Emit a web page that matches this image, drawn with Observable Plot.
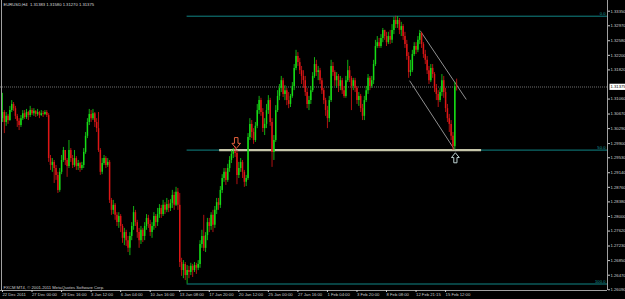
<!DOCTYPE html>
<html><head><meta charset="utf-8">
<script src="https://cdn.jsdelivr.net/npm/d3@7"></script>
<script src="https://cdn.jsdelivr.net/npm/@observablehq/plot@0.6"></script>
<style>html,body{margin:0;padding:0;background:#000;} svg{display:block}</style>
</head><body>
<div id="chart"></div>
<script>
const symbol = "EURUSD";
const timeframe = "H4";
const copyright = "FXCM MT4, © 2001-2011 MetaQuotes Software Corp.";

const opens = [
1.3055,1.3071,1.3045,1.3061,1.3050,1.3076,1.3092,1.3081,1.3061,1.3048,
1.3037,1.3055,1.3068,1.3058,1.3071,1.3063,1.3076,1.3068,1.3074,1.3066,
1.3071,1.3063,1.3068,1.3066,1.3071,1.3063,1.2951,1.2933,1.2941,1.2925,
1.2907,1.2868,1.2915,1.2946,1.2972,1.2946,1.2930,1.2972,1.2951,1.2933,
1.2951,1.2930,1.2938,1.2925,1.2933,1.2967,1.3009,1.3045,1.3066,1.3055,
1.3068,1.3045,1.3029,1.2972,1.2915,1.2938,1.2951,1.2933,1.2941,1.2842,
1.2816,1.2829,1.2803,1.2784,1.2800,1.2774,1.2743,1.2758,1.2737,1.2717,
1.2748,1.2774,1.2810,1.2784,1.2758,1.2737,1.2764,1.2748,1.2774,1.2795,
1.2779,1.2758,1.2774,1.2800,1.2784,1.2805,1.2821,1.2805,1.2829,1.2816,
1.2831,1.2821,1.2834,1.2855,1.2829,1.2863,1.2829,1.2680,1.2659,1.2675,
1.2646,1.2659,1.2654,1.2670,1.2659,1.2672,1.2665,1.2675,1.2727,1.2748,
1.2717,1.2750,1.2784,1.2774,1.2803,1.2777,1.2816,1.2836,1.2829,1.2868,
1.2899,1.2915,1.2894,1.2925,1.2946,1.2962,1.2969,1.2964,1.2907,1.2925,
1.2941,1.2915,1.2889,1.2899,1.3006,1.3040,1.3019,1.2998,1.3035,1.3076,
1.3102,1.3071,1.3029,1.3040,1.3076,1.3102,1.3045,1.2967,1.2998,1.3076,
1.3113,1.3134,1.3154,1.3118,1.3128,1.3102,1.3092,1.3113,1.3139,1.3186,
1.3217,1.3201,1.3180,1.3165,1.3154,1.3123,1.3092,1.3102,1.3128,1.3165,
1.3196,1.3175,1.3180,1.3154,1.3128,1.3102,1.3076,1.3055,1.3102,1.3191,
1.3175,1.3154,1.3165,1.3139,1.3154,1.3128,1.3113,1.3154,1.3180,1.3160,
1.3139,1.3154,1.3134,1.3102,1.3113,1.3081,1.3061,1.3102,1.3128,1.3160,
1.3139,1.3154,1.3196,1.3243,1.3253,1.3243,1.3264,1.3285,1.3269,1.3253,
1.3269,1.3259,1.3285,1.3311,1.3300,1.3311,1.3285,1.3295,1.3269,1.3248,
1.3217,1.3175,1.3180,1.3222,1.3243,1.3233,1.3259,1.3277,1.3248,1.3222,
1.3207,1.3180,1.3154,1.3186,1.3170,1.3134,1.3118,1.3102,1.3123,1.3154,
1.3123,1.3081,1.3055,1.3040,1.3009,1.2982,1.31383];

const highs = [
1.3121,1.3076,1.3071,1.3066,1.3087,1.3102,1.3097,1.3087,1.3066,1.3055,
1.3063,1.3076,1.3076,1.3079,1.3074,1.3087,1.3081,1.3081,1.3076,1.3079,
1.3074,1.3076,1.3074,1.3076,1.3076,1.3068,1.2959,1.2951,1.2946,1.2933,
1.2915,1.2925,1.2959,1.2980,1.2972,1.2951,1.2998,1.2977,1.2959,1.2972,
1.2956,1.2946,1.2941,1.2941,1.2977,1.3019,1.3055,1.3079,1.3076,1.3079,
1.3071,1.3055,1.3071,1.2977,1.2951,1.2959,1.2956,1.2951,1.2946,1.2847,
1.2842,1.2834,1.2810,1.2810,1.2805,1.2779,1.2769,1.2764,1.2748,1.2758,
1.2784,1.2826,1.2816,1.2790,1.2769,1.2774,1.2769,1.2784,1.2805,1.2803,
1.2790,1.2784,1.2810,1.2805,1.2821,1.2831,1.2829,1.2842,1.2836,1.2847,
1.2842,1.2844,1.2868,1.2863,1.2876,1.2873,1.2860,1.2691,1.2685,1.2680,
1.2672,1.2670,1.2678,1.2675,1.2680,1.2678,1.2685,1.2737,1.2764,1.2803,
1.2758,1.2795,1.2795,1.2810,1.2816,1.2826,1.2847,1.2847,1.2878,1.2909,
1.2925,1.2925,1.2936,1.2956,1.2972,1.2977,1.2982,1.2972,1.2941,1.2951,
1.2946,1.2920,1.2907,1.3016,1.3055,1.3050,1.3029,1.3045,1.3092,1.3113,
1.3108,1.3081,1.3055,1.3092,1.3115,1.3108,1.3055,1.3011,1.3089,1.3128,
1.3144,1.3165,1.3160,1.3141,1.3134,1.3123,1.3118,1.3149,1.3196,1.3233,
1.3227,1.3212,1.3191,1.3180,1.3165,1.3134,1.3113,1.3139,1.3175,1.3214,
1.3207,1.3191,1.3186,1.3160,1.3134,1.3108,1.3087,1.3113,1.3207,1.3201,
1.3180,1.3175,1.3170,1.3165,1.3160,1.3139,1.3165,1.3207,1.3191,1.3165,
1.3160,1.3160,1.3139,1.3123,1.3118,1.3092,1.3113,1.3139,1.3170,1.3165,
1.3165,1.3207,1.3259,1.3269,1.3264,1.3274,1.3290,1.3285,1.3280,1.3280,
1.3285,1.3300,1.3319,1.3322,1.3321,1.3316,1.3306,1.3300,1.3280,1.3259,
1.3227,1.3207,1.3233,1.3253,1.3253,1.3269,1.3285,1.3280,1.3253,1.3233,
1.3217,1.3191,1.3196,1.3196,1.3175,1.3144,1.3128,1.3134,1.3170,1.3165,
1.3134,1.3092,1.3066,1.3050,1.3019,1.3149,1.31580];

const lows = [
1.3045,1.3016,1.3035,1.3040,1.3048,1.3071,1.3074,1.3053,1.3032,1.3024,
1.3032,1.3050,1.3053,1.3053,1.3050,1.3058,1.3063,1.3061,1.3058,1.3061,
1.3055,1.3061,1.3058,1.3063,1.3058,1.2941,1.2920,1.2915,1.2886,1.2894,
1.2860,1.2863,1.2909,1.2941,1.2933,1.2902,1.2925,1.2941,1.2925,1.2928,
1.2920,1.2920,1.2915,1.2920,1.2925,1.2962,1.3003,1.3037,1.3045,1.3050,
1.3032,1.3019,1.2967,1.2907,1.2909,1.2933,1.2925,1.2928,1.2834,1.2803,
1.2805,1.2790,1.2774,1.2769,1.2758,1.2730,1.2724,1.2722,1.2706,1.2698,
1.2737,1.2764,1.2774,1.2743,1.2717,1.2727,1.2732,1.2737,1.2764,1.2769,
1.2748,1.2743,1.2764,1.2769,1.2774,1.2795,1.2795,1.2800,1.2805,1.2810,
1.2810,1.2813,1.2821,1.2816,1.2826,1.2816,1.2667,1.2644,1.2638,1.2633,
1.2624,1.2638,1.2646,1.2641,1.2654,1.2649,1.2659,1.2665,1.2717,1.2709,
1.2706,1.2737,1.2758,1.2764,1.2758,1.2769,1.2805,1.2816,1.2821,1.2860,
1.2889,1.2881,1.2889,1.2915,1.2938,1.2951,1.2954,1.2883,1.2899,1.2915,
1.2899,1.2876,1.2878,1.2894,1.2998,1.3003,1.2988,1.2993,1.3029,1.3066,
1.3061,1.3019,1.3011,1.3029,1.3066,1.3035,1.2928,1.2946,1.2993,1.3071,
1.3102,1.3123,1.3110,1.3102,1.3089,1.3081,1.3084,1.3108,1.3128,1.3180,
1.3191,1.3170,1.3144,1.3134,1.3113,1.3081,1.3076,1.3092,1.3123,1.3160,
1.3165,1.3154,1.3144,1.3118,1.3092,1.3061,1.3029,1.3045,1.3097,1.3165,
1.3139,1.3134,1.3123,1.3128,1.3118,1.3108,1.3108,1.3149,1.3149,1.3076,
1.3128,1.3123,1.3092,1.3087,1.3071,1.3050,1.3050,1.3097,1.3118,1.3128,
1.3134,1.3144,1.3191,1.3238,1.3238,1.3238,1.3253,1.3259,1.3243,1.3248,
1.3248,1.3251,1.3274,1.3290,1.3290,1.3274,1.3269,1.3259,1.3238,1.3207,
1.3160,1.3165,1.3175,1.3217,1.3222,1.3227,1.3248,1.3238,1.3212,1.3196,
1.3170,1.3144,1.3149,1.3160,1.3123,1.3102,1.3084,1.3097,1.3113,1.3108,
1.3071,1.3045,1.3019,1.2998,1.2972,1.2973,1.31270];

const closes = [
1.3071,1.3045,1.3061,1.3050,1.3076,1.3092,1.3081,1.3061,1.3048,1.3037,
1.3055,1.3068,1.3058,1.3071,1.3063,1.3076,1.3068,1.3074,1.3066,1.3071,
1.3063,1.3068,1.3066,1.3071,1.3063,1.2951,1.2933,1.2941,1.2925,1.2907,
1.2868,1.2915,1.2946,1.2972,1.2946,1.2930,1.2972,1.2951,1.2933,1.2951,
1.2930,1.2938,1.2925,1.2933,1.2967,1.3009,1.3045,1.3066,1.3055,1.3068,
1.3045,1.3029,1.2972,1.2915,1.2938,1.2951,1.2933,1.2941,1.2842,1.2816,
1.2829,1.2803,1.2784,1.2800,1.2774,1.2743,1.2758,1.2737,1.2717,1.2748,
1.2774,1.2810,1.2784,1.2758,1.2737,1.2764,1.2748,1.2774,1.2795,1.2779,
1.2758,1.2774,1.2800,1.2784,1.2805,1.2821,1.2805,1.2829,1.2816,1.2831,
1.2821,1.2834,1.2855,1.2829,1.2863,1.2829,1.2680,1.2659,1.2675,1.2646,
1.2659,1.2654,1.2670,1.2659,1.2672,1.2665,1.2675,1.2727,1.2748,1.2717,
1.2750,1.2784,1.2774,1.2803,1.2777,1.2816,1.2836,1.2829,1.2868,1.2899,
1.2915,1.2894,1.2925,1.2946,1.2962,1.2969,1.2964,1.2907,1.2925,1.2941,
1.2915,1.2889,1.2899,1.3006,1.3040,1.3019,1.2998,1.3035,1.3076,1.3102,
1.3071,1.3029,1.3040,1.3076,1.3102,1.3045,1.2967,1.2998,1.3076,1.3113,
1.3134,1.3154,1.3118,1.3128,1.3102,1.3092,1.3113,1.3139,1.3186,1.3217,
1.3201,1.3180,1.3165,1.3154,1.3123,1.3092,1.3102,1.3128,1.3165,1.3196,
1.3175,1.3180,1.3154,1.3128,1.3102,1.3076,1.3055,1.3102,1.3191,1.3175,
1.3154,1.3165,1.3139,1.3154,1.3128,1.3113,1.3154,1.3180,1.3160,1.3139,
1.3154,1.3134,1.3102,1.3113,1.3081,1.3061,1.3102,1.3128,1.3160,1.3139,
1.3154,1.3196,1.3243,1.3253,1.3243,1.3264,1.3285,1.3269,1.3253,1.3269,
1.3259,1.3285,1.3311,1.3300,1.3311,1.3285,1.3295,1.3269,1.3248,1.3217,
1.3175,1.3180,1.3222,1.3243,1.3233,1.3259,1.3277,1.3248,1.3222,1.3207,
1.3180,1.3154,1.3186,1.3170,1.3134,1.3118,1.3102,1.3123,1.3154,1.3123,
1.3081,1.3055,1.3040,1.3009,1.2982,1.31383,1.31375];

// time axis: bar index of each label, and its text
const tickBars = [0,16,32,48,64,80,96,112,128,144,160,176,192,208,224,240];
const timeLabels = ["22 Dec 2011","27 Dec 00:00","29 Dec 16:00","3 Jan 12:00","6 Jan 04:00",
  "10 Jan 16:00","13 Jan 08:00","17 Jan 20:00","20 Jan 12:00","25 Jan 00:00","27 Jan 16:00",
  "1 Feb 04:00","3 Feb 20:00","8 Feb 08:00","12 Feb 21:15","15 Feb 12:00"];

// price axis labels
const priceTicks = [1.33350,1.32970,1.32580,1.32200,1.31820,1.31060,1.30670,1.30290,1.29900,
  1.29530,1.29140,1.28760,1.28380,1.28000,1.27620,1.27230,1.26850,1.26470,1.26090];

// chart objects
const fibStartBar = 100;
const fibLabels = ["0.0","50.0","100.0"];
const fibPrices = [1.3322,1.2973,1.2624];
const supportBars = [117.6, 259.5];
const supportPrice = 1.2973;
const channelFrom = [{bar:226.4, price:1.3283},{bar:220.5, price:1.3154}];
const channelTo   = [{bar:251.2, price:1.3105},{bar:245.4, price:1.2970}];
const downArrow = {bar: 126.6, price: 1.2977, color: "#e2603c"};
const upArrow   = {bar: 245.3, price: 1.2966, color: "#bcd0d0"};

const bars = closes.map((c, i) => ({i, open: opens[i], high: highs[i], low: lows[i], close: c}));
const last = bars[bars.length - 1];
const fmt5 = d3.format(".5f");
const header = `${symbol},${timeframe}  ${fmt5(last.open)} ${fmt5(last.high)} ${fmt5(last.low)} ${fmt5(last.close)}`;
const fib = fibLabels.map((label, k) => ({label, price: fibPrices[k]}));
const channels = channelFrom.map((a, k) => ({b1: a.bar, p1: a.price, b2: channelTo[k].bar, p2: channelTo[k].price}));

// hollow arrow symbols (tip down / tip up), drawn around their centre
function arrowSymbol(dir) {
  return {draw(ctx, size) {
    const r = Math.sqrt(size / Math.PI);
    const w = 0.32 * r, h = 0.78 * r;
    const pts = [[-w, -r], [w, -r], [w, 0.05 * r], [h, 0.05 * r], [0, r], [-h, 0.05 * r], [-w, 0.05 * r]];
    pts.forEach(([px, py], k) => k ? ctx.lineTo(px, dir * py) : ctx.moveTo(px, dir * py));
    ctx.closePath();
  }};
}

const bull = "#16dc16", bear = "#de1616";
const xDomain = [-1.083, 327.7];
const yDomain = [1.26071, 1.33629];
const gray = "#a0a0a0";

const chart = Plot.plot({
  width: 625, height: 299,
  marginLeft: 0, marginRight: 18, marginTop: 0, marginBottom: 9,
  x: {domain: xDomain, axis: null},
  y: {domain: yDomain, axis: null},
  style: {background: "#000", color: "#cfcfcf", fontFamily: "'Liberation Sans', Arial, sans-serif", fontSize: "4.2px"},
  marks: [
    Plot.ruleY([last.close], {stroke: "#8c8c8c", strokeDasharray: "1,1", strokeWidth: 0.8}),
    Plot.ruleY(fib, {y: "price", x1: fibStartBar, x2: xDomain[1], stroke: "#108585", strokeWidth: 1}),
    Plot.ruleY([supportPrice], {x1: supportBars[0], x2: supportBars[1], stroke: "#c6c6aa", strokeWidth: 2.4}),
    Plot.link(channels, {x1: "b1", y1: "p1", x2: "b2", y2: "p2", stroke: "#b4b4b4", strokeWidth: 0.8}),
    Plot.ruleX(bars, {x: "i", y1: "low", y2: "high", stroke: d => d.close >= d.open ? bull : bear, strokeWidth: 0.8}),
    Plot.ruleX(bars, {x: "i", y1: "open", y2: "close", stroke: d => d.close >= d.open ? bull : bear, strokeWidth: 1.5}),
    Plot.text(fib, {x: xDomain[1], y: "price", text: "label", textAnchor: "end", lineAnchor: "bottom", dx: -2, dy: -1, fill: "#139a9a"}),
    Plot.dot([downArrow], {x: "bar", y: "price", r: 5.5, symbol: arrowSymbol(1), stroke: "color", fill: "none", strokeWidth: 1, dy: -5.5}),
    Plot.dot([upArrow], {x: "bar", y: "price", r: 5, symbol: arrowSymbol(-1), stroke: "color", fill: "none", strokeWidth: 1, dy: 5}),
    Plot.ruleX([xDomain[0]], {stroke: gray, dx: 1}),
    Plot.ruleX([xDomain[1]], {stroke: gray}),
    Plot.ruleY([yDomain[0]], {stroke: gray}),
    Plot.axisY({anchor: "right", ticks: priceTicks, tickFormat: fmt5, tickSize: 2, tickPadding: 1, label: null}),
    Plot.axisX({anchor: "bottom", ticks: tickBars, tickFormat: d => timeLabels[tickBars.indexOf(d)], tickSize: 2, tickPadding: 1, textAnchor: "start", label: null}),
    Plot.text([header], {frameAnchor: "top-left", dx: 3, dy: 3, fill: "#dcdcdc"}),
    Plot.text([copyright], {frameAnchor: "bottom-left", dx: 3, dy: -2, fill: "#cfcfcf"}),
    Plot.text([last.close], {x: xDomain[1], y: d => d, text: d => fmt5(d), textAnchor: "start", dx: 3, fill: "#000"})
  ]
});
document.getElementById("chart").appendChild(chart);

// white background box behind the current price label (same transform as the text)
const priceText = fmt5(last.close);
d3.select(chart).selectAll("text").filter(function() {
  return this.textContent === priceText;
}).each(function() {
  const b = this.getBBox();
  const t = this.getAttribute("transform");
  const rect = d3.select(this.parentNode).insert("rect", () => this)
    .attr("x", b.x - 1).attr("y", b.y - 0.6).attr("width", b.width + 2).attr("height", b.height + 1.2)
    .attr("fill", "#fff");
  if (t) rect.attr("transform", t);
});
</script>
</body></html>
